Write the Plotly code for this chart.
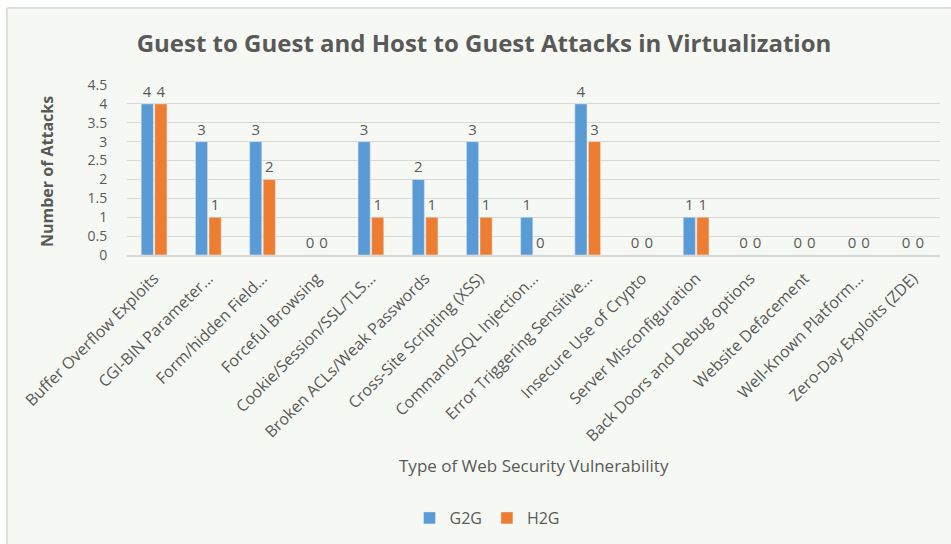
import plotly.graph_objects as go

categories = [
    "Buffer Overflow Exploits", "CGI-BIN Parameter…", "Form/hidden Field…",
    "Forceful Browsing", "Cookie/Session/SSL/TLS…", "Broken ACLs/Weak Passwords",
    "Cross-Site Scripting (XSS)", "Command/SQL Injection…", "Error Triggering Sensitive…",
    "Insecure Use of Crypto", "Server Misconfiguration", "Back Doors and Debug options",
    "Website Defacement", "Well-Known Platform…", "Zero-Day Exploits (ZDE)",
]
g2g = [4, 3, 3, 0, 3, 2, 3, 1, 4, 0, 1, 0, 0, 0, 0]
h2g = [4, 1, 2, 0, 1, 1, 1, 0, 3, 0, 1, 0, 0, 0, 0]
y_ticks = [0, 0.5, 1, 1.5, 2, 2.5, 3, 3.5, 4, 4.5]

W, H = 951, 544
L, R, T, B = 127, 11, 85, 289
pw, ph = W - L - R, H - T - B

def px(x):
    return (x - L) / pw

def py(y):
    return (H - B - y) / ph

FONT = "Open Sans"
GRAY = "#595959"

fig = go.Figure()
fig.add_bar(name="G2G", x=categories, y=g2g, marker_color="#5B9BD5",
            text=[str(v) for v in g2g], textposition="outside",
            textfont=dict(color=GRAY, size=15, family=FONT), cliponaxis=False)
fig.add_bar(name="H2G", x=categories, y=h2g, marker_color="#ED7D31",
            text=[str(v) for v in h2g], textposition="outside",
            textfont=dict(color=GRAY, size=15, family=FONT), cliponaxis=False)

fig.update_layout(
    width=W, height=H,
    margin=dict(l=L, r=R, t=T, b=B),
    paper_bgcolor="white",
    plot_bgcolor="rgba(0,0,0,0)",
    barmode="group", bargap=0.5, bargroupgap=0.1,
    font=dict(family=FONT, color=GRAY, size=14),
    title=dict(text="<b>Guest to Guest and Host to Guest Attacks in Virtualization</b>",
               x=484 / W, xanchor="center", y=1 - 44 / H, yanchor="middle",
               font=dict(size=24, color=GRAY, family=FONT)),
    xaxis=dict(tickangle=-45, tickfont=dict(size=16, color=GRAY, family=FONT),
               showline=True, linecolor="#d9d9d9", linewidth=1.5,
               ticks="outside", ticklen=6, tickcolor="rgba(0,0,0,0)"),
    yaxis=dict(range=[0, 4.5], tickvals=y_ticks, ticktext=[f"{v:g}" for v in y_ticks],
               gridcolor="#d9d9d9", gridwidth=1, zeroline=False,
               tickfont=dict(size=14, color=GRAY, family=FONT),
               ticks="outside", ticklen=16, tickcolor="rgba(0,0,0,0)"),
    showlegend=True,
    legend=dict(orientation="h", x=487 / W, xanchor="center", y=1 - 518 / H,
                yanchor="middle", yref="container", xref="container",
                font=dict(size=16, color=GRAY, family=FONT),
                bgcolor="rgba(0,0,0,0)", itemwidth=30, traceorder="normal"),
    annotations=[
        dict(text="Type of Web Security Vulnerability", xref="paper", yref="paper",
             x=px(534), y=py(465), xanchor="center", yanchor="middle", showarrow=False,
             font=dict(size=17, color=GRAY, family=FONT)),
        dict(text="<b>Number of Attacks</b>", xref="paper", yref="paper",
             x=px(47), y=py(172), xanchor="center", yanchor="middle", showarrow=False,
             textangle=-90, font=dict(size=16, color=GRAY, family=FONT)),
    ],
    shapes=[
        dict(type="rect", xref="paper", yref="paper", x0=px(8), x1=px(W + 2),
             y0=py(H + 2), y1=py(9), fillcolor="#f6f9f3", line=dict(width=0),
             layer="below"),
        dict(type="line", xref="paper", yref="paper", x0=px(7), x1=px(W + 2),
             y0=py(8), y1=py(8), line=dict(color="#d4d4d4", width=1.5), layer="below"),
        dict(type="line", xref="paper", yref="paper", x0=px(7), x1=px(7),
             y0=py(8), y1=py(H + 2), line=dict(color="#d4d4d4", width=1.5), layer="below"),
    ],
)
fig.write_html("out.html")
